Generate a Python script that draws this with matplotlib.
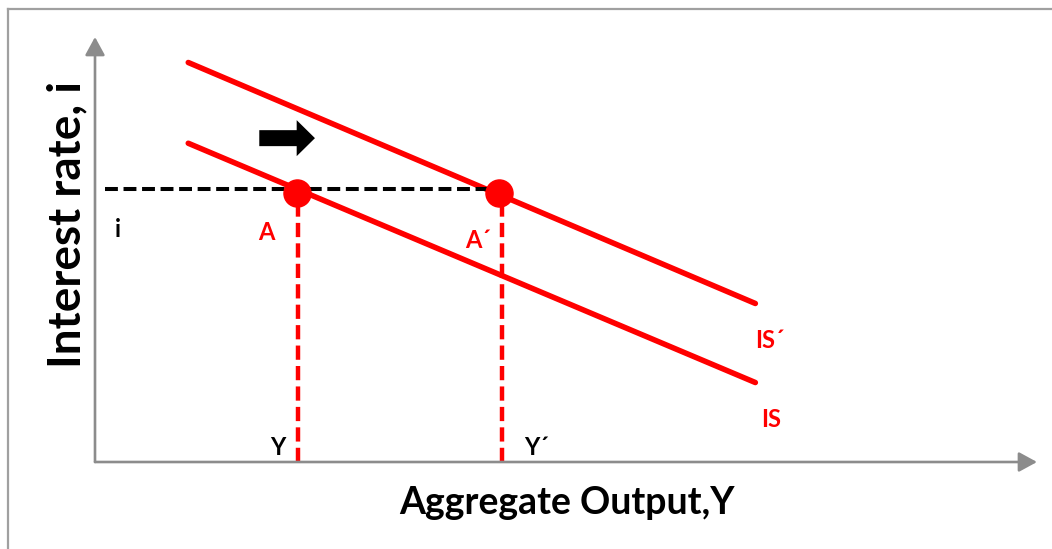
import numpy as np
import matplotlib
matplotlib.use("Agg")
import matplotlib.pyplot as plt
from matplotlib.patches import FancyArrow
from matplotlib.lines import Line2D

plt.rcParams['font.family'] = ['Lato', 'DejaVu Sans']
plt.rcParams['font.weight'] = 'bold'

# curves (output, interest rate)
is_x = [0.99, 7.01]
is_y = [7.50, 1.87]
is_shift_x = [0.99, 7.01]
is_shift_y = [9.40, 3.73]

# equilibrium points
eq_x = [2.14, 4.29]
eq_y = [6.34, 6.34]
eq_names = ['A', 'A´']

i_level = 6.42
i_start = 0.11
y_levels = [2.16, 4.32]
y_names = ['Y', 'Y´']

RED = '#ff0000'
GRAY = '#8c8c8c'

fig = plt.figure(figsize=(10.52, 5.49), dpi=100)
ax = fig.add_axes([95 / 1052, 87 / 549, 942 / 1052, 425 / 549])
ax.set_xlim(0, 10)
ax.set_ylim(0, 10)
ax.axis('off')

# frame around the picture (cut at right / bottom)
fig.add_artist(Line2D([8 / 1052, 8 / 1052], [0, 1 - 9 / 549], transform=fig.transFigure,
                      color='#a0a0a0', lw=1.6))
fig.add_artist(Line2D([8 / 1052, 1], [1 - 9 / 549, 1 - 9 / 549], transform=fig.transFigure,
                      color='#a0a0a0', lw=1.6))

# axes with arrows
ap = dict(arrowstyle='-|>,head_length=0.55,head_width=0.3', color=GRAY, lw=1.9,
          shrinkA=0, shrinkB=0, mutation_scale=20)
ax.annotate('', xy=(10, 0), xytext=(0, 0), arrowprops=ap, annotation_clip=False)
ax.annotate('', xy=(0, 10), xytext=(0, 0), arrowprops=ap, annotation_clip=False)

# IS curves
ax.plot(is_x, is_y, color=RED, lw=4, solid_capstyle='round', zorder=3)
ax.plot(is_shift_x, is_shift_y, color=RED, lw=4, solid_capstyle='round', zorder=3)

# dashed guides
ax.plot([i_start, eq_x[1]], [i_level, i_level], color='black', lw=2.9,
        dashes=(3.2, 1.4), zorder=4)
for yl in y_levels:
    ax.plot([yl, yl], [0, eq_y[0]], color=RED, lw=3.2, dashes=(3.2, 1.4), zorder=2)

# equilibrium points
ax.plot(eq_x, eq_y, 'o', color=RED, ms=19.5, zorder=5)

# shift arrow
ax.add_patch(FancyArrow(1.744, 7.62, 0.397, 0, width=0.376, head_width=0.847,
                        head_length=0.194, length_includes_head=False,
                        color='black', lw=0, zorder=5))

# labels
fs = 17
ax.text(0.244, 5.46, 'i', fontsize=fs, ha='center', va='center', color='black')
ax.text(1.82, 5.39, eq_names[0], fontsize=fs, ha='center', va='center', color=RED)
ax.text(3.93, 5.2, eq_names[1], fontsize=fs, ha='left', va='center', color=RED)
ax.text(1.94, 0.35, y_names[0], fontsize=fs, ha='center', va='center', color='black')
ax.text(4.55, 0.35, y_names[1], fontsize=fs, ha='left', va='center', color='black')
ax.text(7.01, 2.87, 'IS´', fontsize=fs, ha='left', va='center', color=RED)
ax.text(7.07, 0.99, 'IS', fontsize=fs, ha='left', va='center', color=RED)

fig.text(567 / 1052, 1 - 503 / 549, 'Aggregate Output,Y', fontsize=27,
         ha='center', va='center')
fig.text(67 / 1052, 1 - 225 / 549, 'Interest rate, i', fontsize=33,
         ha='center', va='center', rotation=90)

fig.savefig('out.png', dpi=100, facecolor='white')
